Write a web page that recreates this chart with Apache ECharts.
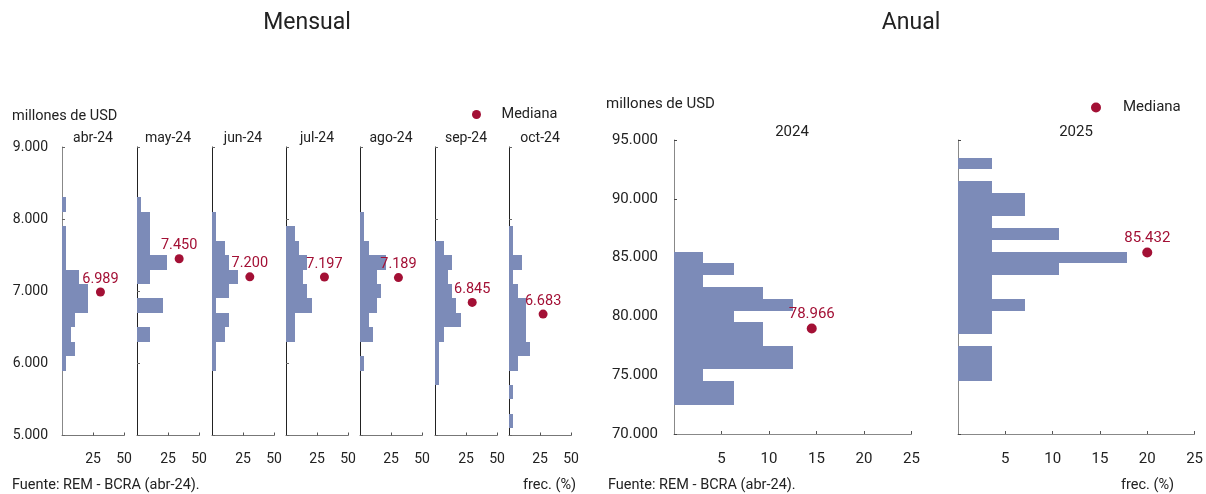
<!DOCTYPE html>
<html>
<head>
<meta charset="utf-8">
<script src="https://cdn.jsdelivr.net/npm/echarts@6/dist/echarts.min.js"></script>
<style>
html,body{margin:0;padding:0;background:#fff;}
#chart{width:1206px;height:494px;}
</style>
</head>
<body>
<div id="chart"></div>
<script>
// ---------- DATA ----------
const months = ['abr-24', 'may-24', 'jun-24', 'jul-24', 'ago-24', 'sep-24', 'oct-24'];
// monthly bin centres (millones de USD), bin width 200
const monthBins = [8200, 8000, 7800, 7600, 7400, 7200, 7000, 6800, 6600, 6400, 6200, 6000, 5800, 5600, 5400, 5200];
const monthBinWidth = 200;
// frequency (%) per bin for each month
const freqAbr = [3.4, 0, 3.4, 3.4, 3.4, 13.8, 20.7, 20.7, 10.3, 6.9, 10.3, 3.4, 0, 0, 0, 0];
const freqMay = [3.4, 10.3, 10.3, 10.3, 24.1, 10.3, 0, 20.7, 0, 10.3, 0, 0, 0, 0, 0, 0];
const freqJun = [0, 3.4, 3.4, 10.3, 13.8, 20.7, 13.8, 3.4, 13.8, 10.3, 3.4, 3.4, 0, 0, 0, 0];
const freqJul = [0, 0, 6.9, 10.3, 17.2, 13.8, 17.2, 20.7, 6.9, 6.9, 0, 0, 0, 0, 0, 0];
const freqAgo = [0, 3.4, 3.4, 6.9, 20.7, 13.8, 17.2, 13.8, 6.9, 10.3, 0, 3.4, 0, 0, 0, 0];
const freqSep = [0, 0, 0, 6.9, 13.8, 10.3, 13.8, 17.2, 20.7, 6.9, 3.4, 3.4, 3.4, 0, 0, 0];
const freqOct = [0, 0, 3.4, 3.4, 10.3, 3.4, 6.9, 13.8, 13.8, 13.8, 17.2, 6.9, 0, 3.4, 0, 3.4];
const monthFreqs = [freqAbr, freqMay, freqJun, freqJul, freqAgo, freqSep, freqOct];
const monthMedians = [6989, 7450, 7200, 7197, 7189, 6845, 6683];
const monthMedianX = [31, 34, 30.5, 31, 31, 30, 27.5];
const monthYTicks = [5000, 6000, 7000, 8000, 9000];
const monthXTicks = [25, 50];

const years = ['2024', '2025'];
const yearBins = [93000, 92000, 91000, 90000, 89000, 88000, 87000, 86000, 85000, 84000, 83000, 82000, 81000, 80000, 79000, 78000, 77000, 76000, 75000, 74000, 73000];
const yearBinWidth = 1000;
const freq2024 = [0, 0, 0, 0, 0, 0, 0, 0, 3.1, 6.3, 3.1, 9.4, 12.5, 6.3, 9.4, 9.4, 12.5, 12.5, 3.1, 6.3, 6.3];
const freq2025 = [3.6, 0, 3.6, 7.1, 7.1, 3.6, 10.7, 3.6, 17.9, 10.7, 3.6, 3.6, 7.1, 3.6, 3.6, 0, 3.6, 3.6, 3.6, 0, 0];
const yearFreqs = [freq2024, freq2025];
const yearMedians = [78966, 85432];
const yearMedianX = [14.5, 20];
const yearYTicks = [70000, 75000, 80000, 85000, 90000, 95000];
const yearXTicks = [5, 10, 15, 20, 25];

// ---------- STYLE ----------
const FONT = 'Roboto, "Noto Sans", sans-serif';
const BAR = '#7c8bb8';
const RED = '#a31035';
const TXT = '#222';
const fmt = v => String(Math.round(v)).replace(/\B(?=(\d{3})+(?!\d))/g, '.');

function histRender(binW) {
  return function (params, api) {
    const c = api.value(0), f = api.value(1);
    const p0 = api.coord([0, c + binW / 2]);
    const p1 = api.coord([f, c - binW / 2]);
    const x0 = Math.round(p0[0]), x1 = Math.round(p1[0]);
    const y0 = Math.round(p0[1]), y1 = Math.round(p1[1]);
    return {
      type: 'rect',
      shape: { x: x0, y: y0, width: x1 - x0, height: y1 - y0 },
      style: { fill: BAR }
    };
  };
}

const grids = [], xAxes = [], yAxes = [], series = [], titles = [];
const tstyle = (size) => ({ fontSize: size, fontWeight: 'normal', color: TXT, fontFamily: FONT });

// monthly panels
const mLeft = [62, 137, 212, 286, 360, 435, 509];
months.forEach((m, i) => {
  grids.push({ left: mLeft[i], top: 147, width: 62, height: 288.5 });
  const axColor = i === 0 ? '#888' : '#222';
  xAxes.push({
    type: 'value', gridIndex: i, min: 0, max: monthXTicks[1], interval: monthXTicks[0],
    axisLine: { show: true, lineStyle: { color: '#777', width: 1 } },
    axisTick: { show: true, inside: true, length: 3, lineStyle: { color: '#555' } },
    splitLine: { show: false },
    axisLabel: { showMinLabel: false, color: TXT, fontSize: 14, fontFamily: FONT, margin: 17 }
  });
  yAxes.push({
    type: 'value', gridIndex: i, min: monthYTicks[0], max: monthYTicks[monthYTicks.length - 1], interval: 1000,
    axisLine: { show: true, lineStyle: { color: axColor, width: 1 } },
    axisTick: { show: true, inside: true, length: 3, lineStyle: { color: '#666' } },
    splitLine: { show: false },
    axisLabel: { show: i === 0, formatter: fmt, color: TXT, fontSize: 14, fontFamily: FONT, margin: 14 }
  });
  const data = monthBins.map((b, k) => [b, monthFreqs[i][k]]).filter(d => d[1] > 0);
  series.push({
    type: 'custom', xAxisIndex: i, yAxisIndex: i, renderItem: histRender(monthBinWidth),
    encode: { x: 1, y: 0 }, data: data, silent: true
  });
  series.push({
    type: 'scatter', name: 'Mediana', xAxisIndex: i, yAxisIndex: i,
    data: [[monthMedianX[i], monthMedians[i]]], symbolSize: 9,
    itemStyle: { color: RED, opacity: 1 },
    label: { show: true, position: 'top', distance: 1, color: RED, fontSize: 14.5, fontFamily: FONT,
      formatter: p => fmt(p.value[1]) }
  });
  titles.push({ text: m, left: mLeft[i] + 31, top: 131, textAlign: 'center', padding: 0, textStyle: tstyle(14) });
});

// annual panels
const yLeft = [674, 958];
years.forEach((y, j) => {
  const gi = months.length + j;
  grids.push({ left: yLeft[j], top: 140, width: 237.5, height: 294 });
  xAxes.push({
    type: 'value', gridIndex: gi, min: 0, max: 25, interval: 5,
    axisLine: { show: true, lineStyle: { color: '#888', width: 1 } },
    axisTick: { show: true, inside: true, length: 3, lineStyle: { color: '#555' } },
    splitLine: { show: false },
    axisLabel: { showMinLabel: false, color: TXT, fontSize: 15, fontFamily: FONT, margin: 18 }
  });
  yAxes.push({
    type: 'value', gridIndex: gi, min: yearYTicks[0], max: yearYTicks[yearYTicks.length - 1], interval: 5000,
    axisLine: { show: true, lineStyle: { color: '#888', width: 1 } },
    axisTick: { show: true, inside: true, length: 3, lineStyle: { color: '#444' } },
    splitLine: { show: false },
    axisLabel: { show: j === 0, formatter: fmt, color: TXT, fontSize: 15, fontFamily: FONT, margin: 16 }
  });
  const data = yearBins.map((b, k) => [b, yearFreqs[j][k]]).filter(d => d[1] > 0);
  series.push({
    type: 'custom', xAxisIndex: gi, yAxisIndex: gi, renderItem: histRender(yearBinWidth),
    encode: { x: 1, y: 0 }, data: data, silent: true
  });
  series.push({
    type: 'scatter', name: 'Mediana', xAxisIndex: gi, yAxisIndex: gi,
    data: [[yearMedianX[j], yearMedians[j]]], symbolSize: 10,
    itemStyle: { color: RED, opacity: 1 },
    label: { show: true, position: 'top', distance: 2, color: RED, fontSize: 15, fontFamily: FONT,
      formatter: p => fmt(p.value[1]) }
  });
  titles.push({ text: y, left: yLeft[j] + 118, top: 125, textAlign: 'center', padding: 0, textStyle: tstyle(15) });
});

// other texts
titles.push(
  { text: 'Mensual', left: 307, top: 12, textAlign: 'center', padding: 0, textStyle: tstyle(23) },
  { text: 'Anual', left: 911, top: 12, textAlign: 'center', padding: 0, textStyle: tstyle(23) },
  { text: 'millones de USD', left: 12, top: 109, padding: 0, textStyle: tstyle(14.5) },
  { text: 'millones de USD', left: 606, top: 97, padding: 0, textStyle: tstyle(15) },
  { text: 'Fuente: REM - BCRA (abr-24).', left: 12, top: 478, padding: 0, textStyle: tstyle(14.5) },
  { text: 'Fuente: REM - BCRA (abr-24).', left: 608, top: 478, padding: 0, textStyle: tstyle(14.5) },
  { text: 'frec. (%)', left: 523, top: 478, padding: 0, textStyle: tstyle(14.5) },
  { text: 'frec. (%)', left: 1121, top: 478, padding: 0, textStyle: tstyle(14.5) }
);

const option = {
  backgroundColor: '#fff',
  animation: false,
  title: titles,
  legend: [
    { data: [{ name: 'Mediana', icon: 'circle', itemStyle: { opacity: 1 } }], left: 467, top: 102, itemWidth: 40, itemHeight: 9, itemGap: 5,
      textStyle: { fontSize: 14.5, color: TXT, fontFamily: FONT }, selectedMode: false },
    { data: [{ name: 'Mediana', icon: 'circle', itemStyle: { opacity: 1 } }], left: 1086, top: 95, itemWidth: 44, itemHeight: 10, itemGap: 5,
      textStyle: { fontSize: 15, color: TXT, fontFamily: FONT }, selectedMode: false }
  ],
  grid: grids,
  xAxis: xAxes,
  yAxis: yAxes,
  series: series
};

const chart = echarts.init(document.getElementById('chart'), null, { renderer: 'canvas' });
chart.setOption(option);
</script>
</body>
</html>
